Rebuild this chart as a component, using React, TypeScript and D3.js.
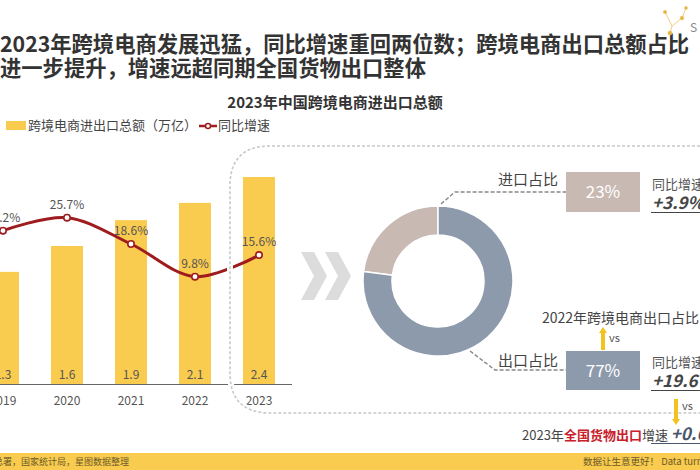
import React from 'react';
import * as d3 from 'd3';

const years = ['2019', '2020', '2021', '2022', '2023'];
const totals = [1.3, 1.6, 1.9, 2.1, 2.4];
const growth = [22.2, 25.7, 18.6, 9.8, 15.6];
const shareLabels = ['进口占比', '出口占比'];
const shares = [23, 77];
const shareGrowth = ['+3.9%', '+19.6%'];

const FONT = '"Noto Sans CJK SC", "Noto Sans", sans-serif';
const YELLOW = '#f9cb4e';
const RED = '#9e1b1e';
const IMPORT_C = '#c8b9b3';
const EXPORT_C = '#8d9aab';

const x = d3.scaleBand<string>().domain(years).range([-29, 291]).paddingInner(0.5).paddingOuter(0.25);
const yBar = d3.scaleLinear().domain([0, 2.4]).range([384, 177]);
const yRate = d3.scaleLinear().domain([0, 30]).range([313, 201.7]);

// donut, import slice ends at 12 o'clock
const cx = 438, cy = 281;
const pie = d3.pie<number>().sort(null).startAngle(-0.23 * 2 * Math.PI).endAngle(0.77 * 2 * Math.PI);
const arc = d3.arc<d3.PieArcDatum<number>>().innerRadius(46).outerRadius(75);

const Arrow = ({ x0, y0, y1 }: { x0: number; y0: number; y1: number }) => {
  const dir = y1 < y0 ? -1 : 1;
  return (
    <g>
      <line x1={x0} x2={x0} y1={y0} y2={y1 - dir * 5} stroke="#f3c21f" strokeWidth={4} />
      <path d={`M${x0 - 4},${y1 - dir * 6} L${x0 + 4},${y1 - dir * 6} L${x0},${y1} Z`} fill="#f3c21f" />
    </g>
  );
};

export default function App() {
  const cxs = years.map(d => (x(d) as number) + x.bandwidth() / 2);
  const line = d3.line<number>()
    .x((_, i) => cxs[i])
    .y(d => yRate(d))
    .curve(d3.curveCatmullRom.alpha(0.5));
  const pieData = pie(shares);

  const dashedBox = 'M720,146 L270,146 Q230,146 230,186 L230,373 Q230,413 270,413 L720,413';

  return (
    <svg width={700} height={470} style={{ position: 'absolute', left: 0, top: 0, background: '#fff' }} fontFamily={FONT}>
      {/* title */}
      <text x={0} y={52} fontSize={21.3} fontWeight={700} fill="#333">2023年跨境电商发展迅猛，同比增速重回两位数；跨境电商出口总额占比</text>
      <text x={0} y={76} fontSize={21.3} fontWeight={700} fill="#333">进一步提升，增速远超同期全国货物出口整体</text>

      {/* logo */}
      <g stroke="#e8c25a" strokeWidth={0.8} fill="#e3b43a">
        <line x1={665} y1={12} x2={672} y2={26} />
        <line x1={672} y1={26} x2={682} y2={18} />
        <line x1={682} y1={18} x2={686} y2={8} />
        <line x1={672} y1={26} x2={670} y2={33} />
        <circle cx={665} cy={12} r={1.6} />
        <circle cx={682} cy={18} r={1.8} />
        <circle cx={686} cy={8} r={1.4} />
        <circle cx={670} cy={33} r={2} />
      </g>
      <text x={690} y={32} fontSize={12} fill="#888">S</text>

      {/* chart title */}
      <text x={335} y={108} textAnchor="middle" fontSize={15} fontWeight={700} fill="#333">2023年中国跨境电商进出口总额</text>

      {/* legend */}
      <rect x={6} y={121} width={20} height={9} fill={YELLOW} />
      <text x={28} y={130} fontSize={13} fill="#444">跨境电商进出口总额（万亿）</text>
      <line x1={199} x2={217} y1={126} y2={126} stroke={RED} strokeWidth={2.5} />
      <circle cx={208} cy={126} r={2.5} fill="#fff" stroke={RED} strokeWidth={1.5} />
      <text x={218} y={130} fontSize={13} fill="#444">同比增速</text>

      {/* bars */}
      {years.map((d, i) => (
        <g key={d}>
          <rect x={x(d)} y={yBar(totals[i])} width={x.bandwidth()} height={yBar(0) - yBar(totals[i])} fill={YELLOW} />
          <text x={cxs[i]} y={379} textAnchor="middle" fontSize={12} fill="#555">{totals[i].toFixed(1)}</text>
          <text x={cxs[i]} y={405} textAnchor="middle" fontSize={12} fill="#555">{d}</text>
        </g>
      ))}
      <line x1={0} x2={292} y1={384.5} y2={384.5} stroke="#666" strokeWidth={1.2} />

      {/* growth line */}
      <path d={line(growth) || ''} fill="none" stroke={RED} strokeWidth={3} />
      {growth.map((g, i) => (
        <g key={i}>
          <circle cx={cxs[i]} cy={yRate(g)} r={3.2} fill="#fff" stroke={RED} strokeWidth={1.6} />
          <text x={cxs[i]} y={yRate(g) - 9} textAnchor="middle" fontSize={12} fill="#555">{g.toFixed(1)}%</text>
        </g>
      ))}

      {/* dashed panel */}
      <path d={dashedBox} fill="none" stroke="#fff" strokeWidth={6} />
      <path d={dashedBox} fill="none" stroke="#c8c8c8" strokeWidth={1.6} strokeDasharray="3,2" />

      {/* chevrons */}
      {[0, 24].map(o => (
        <path key={o} d={`M${301 + o},252 L${314 + o},252 L${327 + o},276 L${314 + o},300 L${301 + o},300 L${314 + o},276 Z`} fill="#dcdcdc" />
      ))}

      {/* donut */}
      <g transform={`translate(${cx},${cy})`}>
        {pieData.map((a, i) => (
          <path key={i} d={arc(a) || ''} fill={i === 0 ? IMPORT_C : EXPORT_C} stroke="#fff" strokeWidth={1.5} />
        ))}
      </g>

      {/* leaders */}
      <path d="M441,204 L455,192 L566,192" fill="none" stroke="#888" strokeWidth={1.4} strokeDasharray="4,2" />
      <path d="M470,351 L495,370 L566,370" fill="none" stroke="#888" strokeWidth={1.4} strokeDasharray="4,2" />
      <text x={558} y={185} textAnchor="end" fontSize={15} fill="#444">{shareLabels[0]}</text>
      <text x={558} y={366} textAnchor="end" fontSize={15} fill="#444">{shareLabels[1]}</text>

      {/* value boxes */}
      <rect x={566} y={172} width={74} height={40} fill={IMPORT_C} />
      <text x={603} y={198} textAnchor="middle" fontSize={17} fill="#fff">{shares[0]}%</text>
      <rect x={566} y={351} width={74} height={39} fill={EXPORT_C} />
      <text x={603} y={377} textAnchor="middle" fontSize={17} fill="#fff">{shares[1]}%</text>

      <text x={652} y={189} fontSize={13} fill="#555">同比增速</text>
      <text x={652} y={209} fontSize={17} fontWeight={700} fontStyle="italic" fill="#444">{shareGrowth[0]}</text>
      <line x1={651} x2={720} y1={212.5} y2={212.5} stroke="#444" strokeWidth={1.2} />
      <text x={652} y={367} fontSize={13} fill="#555">同比增速</text>
      <text x={652} y={387} fontSize={17} fontWeight={700} fontStyle="italic" fill="#444">{shareGrowth[1]}</text>
      <line x1={651} x2={720} y1={390.5} y2={390.5} stroke="#444" strokeWidth={1.2} />

      <text x={542} y={323} fontSize={14} fill="#444">2022年跨境电商出口占比 <tspan fontSize={17}>73%</tspan></text>
      <Arrow x0={603} y0={350} y1={327} />
      <text x={609} y={342} fontSize={11} fill="#555">vs</text>
      <Arrow x0={676} y0={399} y1={425} />
      <text x={682} y={410} fontSize={11} fill="#555">vs</text>

      <text x={522} y={440} fontSize={13} fill="#444">2023年<tspan fill="#c8202a" fontWeight={700}>全国货物出口</tspan>增速 <tspan fontSize={17} fontWeight={700} fontStyle="italic" fill="#4a5670">+0.6%</tspan></text>
      <line x1={651} x2={720} y1={443.5} y2={443.5} stroke="#4a5670" strokeWidth={1.2} />

      {/* footer band */}
      <rect x={0} y={453} width={700} height={17} fill={YELLOW} />
      <text x={129} y={465} textAnchor="end" fontSize={9} fill="#6b5a2a">数据来源：海关总署，国家统计局，星图数据整理</text>
      <text x={583} y={465} fontSize={9.5} fill="#6b5a2a">数据让生意更好！ Data turns into business</text>
    </svg>
  );
}
